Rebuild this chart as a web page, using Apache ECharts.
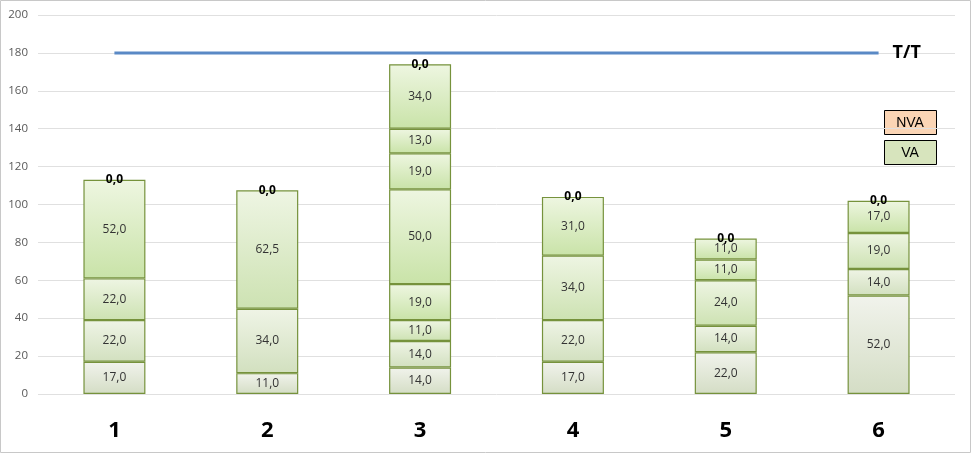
<!DOCTYPE html>
<html><head><meta charset="utf-8">
<script src="https://cdn.jsdelivr.net/npm/echarts@6/dist/echarts.min.js"></script>
<style>html,body{margin:0;padding:0;background:#fff}#c{width:972px;height:454px}</style>
</head><body><div id="c"></div>
<script>
const categories = ['1','2','3','4','5','6'];
// VA segments, stacked bottom to top (null = no segment)
const va1 = [17, 11, 14, 17, 22, 52];
const va2 = [22, 34, 14, 22, 14, 14];
const va3 = [22, 62.5, 11, 34, 24, 19];
const va4 = [52, null, 19, 31, 11, 17];
const va5 = [null, null, 50, null, 11, null];
const va6 = [null, null, 19, null, null, null];
const va7 = [null, null, 13, null, null, null];
const va8 = [null, null, 34, null, null, null];
const nva = [0, 0, 0, 0, 0, 0];
const target = [180, 180, 180, 180, 180, 180];
const yTicks = [0, 20, 40, 60, 80, 100, 120, 140, 160, 180, 200];

const vaSeries = [va1, va2, va3, va4, va5, va6, va7, va8];
const grads = [
  ['#f1f3ec', '#d4ddc5'],
  ['#eff4e6', '#d2e0bf'],
  ['#eef5e3', '#cde2b2'],
  ['#eef6e1', '#c9e3a8'],
  ['#eef6e1', '#c9e3a8'],
  ['#eef6e1', '#c9e3a8'],
  ['#eef6e1', '#c9e3a8'],
  ['#eef6e1', '#c9e3a8']
];
const fmt = v => v.toFixed(1).replace('.', ',');

const series = vaSeries.map((d, i) => ({
  type: 'bar', stack: 'a', name: 'VA' + (i + 1), data: d, barWidth: 62,
  itemStyle: {
    color: new echarts.graphic.LinearGradient(0, 0, 0, 1, [
      {offset: 0, color: grads[i][0]}, {offset: 1, color: grads[i][1]}]),
    borderColor: '#76923c', borderWidth: 1.2
  },
  label: {show: true, position: 'inside', fontFamily: 'Open Sans, sans-serif', fontSize: 12, color: '#333',
    formatter: p => p.value == null ? '' : fmt(p.value)},
  emphasis: {disabled: true}
}));
series.push({
  type: 'bar', stack: 'a', name: 'NVA', data: nva, barWidth: 62,
  itemStyle: {color: '#fbd5b5'},
  label: {show: true, position: 'inside', fontFamily: 'Open Sans, sans-serif', fontSize: 12, fontWeight: 'bold', color: '#000',
    formatter: p => fmt(p.value)},
  emphasis: {disabled: true}
});
series.push({
  type: 'line', name: 'T/T', data: target, symbol: 'none',
  lineStyle: {color: '#5a89c5', width: 3},
  endLabel: {show: true, formatter: 'T/T', fontFamily: 'Open Sans, sans-serif', fontSize: 18, fontWeight: 'bold', color: '#000', distance: 14},
  emphasis: {disabled: true}, z: 5
});

const chart = echarts.init(document.getElementById('c'));
chart.setOption({
  animation: false,
  grid: {left: 38, right: 17, top: 15, bottom: 60},
  xAxis: {type: 'category', data: categories,
    axisLine: {show: false}, axisTick: {show: false},
    axisLabel: {fontSize: 22, fontWeight: 'bold', color: '#000', margin: 26, fontFamily: 'Open Sans, sans-serif'}},
  yAxis: {type: 'value', min: yTicks[0], max: yTicks[yTicks.length - 1], interval: 20,
    axisLine: {show: false}, axisTick: {show: false},
    axisLabel: {fontSize: 11.5, color: '#595959', margin: 10, fontFamily: 'Open Sans, sans-serif'},
    splitLine: {lineStyle: {color: '#e0e0e0'}}},
  series: series,
  graphic: [
    {type: 'rect', shape: {x: 0.5, y: 0.5, width: 970, height: 452}, style: {fill: 'none', stroke: '#c8c8c8', lineWidth: 1}, silent: true},
    {type: 'rect', shape: {x: 884.5, y: 110.5, width: 52, height: 24}, style: {fill: '#fbd5b5', stroke: '#000', lineWidth: 1}},
    {type: 'text', x: 910, y: 123, style: {text: 'NVA', fontSize: 14, fontFamily: 'Liberation Sans, Arial, sans-serif', fill: '#000', align: 'center', verticalAlign: 'middle'}},
    {type: 'rect', shape: {x: 884.5, y: 140.5, width: 52, height: 24}, style: {fill: '#d7e4bd', stroke: '#000', lineWidth: 1}},
    {type: 'text', x: 910, y: 153, style: {text: 'VA', fontSize: 14, fontFamily: 'Liberation Sans, Arial, sans-serif', fill: '#000', align: 'center', verticalAlign: 'middle'}}
  ]
});
</script></body></html>
